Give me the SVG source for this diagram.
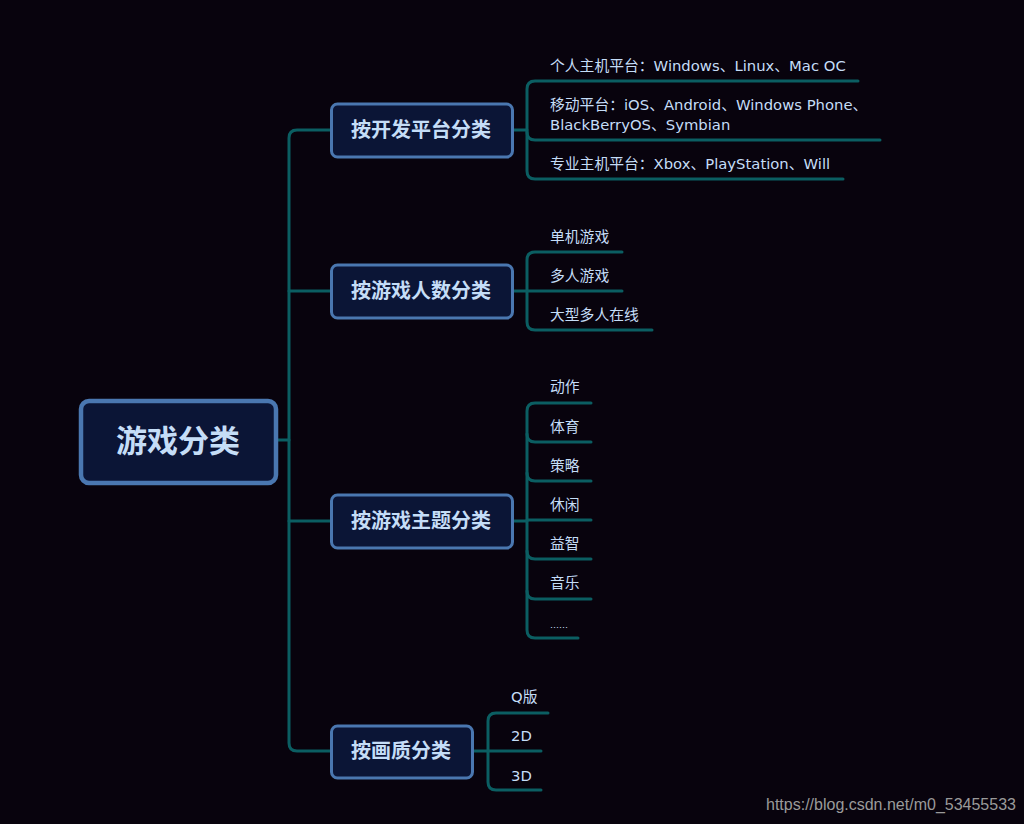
<svg xmlns="http://www.w3.org/2000/svg" width="1024" height="824" viewBox="0 0 1024 824">
<style>
.bg{fill:#08030d}
.node{fill:#0b1536;stroke:#4a77b0;stroke-width:3}
.root{fill:#0b1536;stroke:#4a77b0;stroke-width:4.5}
.c{fill:none;stroke:#0b5e62;stroke-width:3;stroke-linecap:round;stroke-linejoin:round}
.t{font-family:"DejaVu Sans","Noto Sans CJK SC",sans-serif;font-size:14.8px;fill:#c5ddf7}
.nt{font-family:"Noto Sans CJK SC",sans-serif;font-size:20px;font-weight:bold;fill:#c5ddf7;text-anchor:middle}
.rt{font-family:"Noto Sans CJK SC",sans-serif;font-size:31px;font-weight:bold;fill:#c5ddf7;text-anchor:middle}
.wm{font-family:"Liberation Sans",Arial,sans-serif;font-size:16px;fill:#9a9a9a}
</style>
<rect class="bg" x="0" y="0" width="1024" height="824"/>
<g id="connectors">
<path class="c" d="M276 440 H289"/>
<path class="c" d="M331 130 H297 Q289 130 289 138 V743 Q289 751 297 751 H331"/>
<path class="c" d="M289 291 H331 M289 521 H331"/>
<path class="c" d="M513 130 H527"/>
<path class="c" d="M858 81 H535 Q527 81 527 89 V171 Q527 179 535 179 H843"/>
<path class="c" d="M527 132 Q527 140 535 140 H880"/>
<path class="c" d="M513 291 H622"/>
<path class="c" d="M622 252 H535 Q527 252 527 260 V322 Q527 330 535 330 H652"/>
<path class="c" d="M513 521 H527"/>
<path class="c" d="M591 403 H535 Q527 403 527 411 V630 Q527 638 535 638 H578"/>
<path class="c" d="M527 434 Q527 442 535 442 H591 M527 473 Q527 481 535 481 H591 M527 520 H591 M527 551 Q527 559 535 559 H591 M527 591 Q527 599 535 599 H591"/>
<path class="c" d="M473 751 H541"/>
<path class="c" d="M548 713 H496 Q488 713 488 721 V782 Q488 790 496 790 H541"/>
</g>
<g id="root"><rect class="root" x="81" y="401" width="195" height="82" rx="8"/><text class="rt" x="178" y="452">游戏分类</text></g>
<g id="n-platform"><rect class="node" x="331.5" y="104" width="181" height="53" rx="6"/><text class="nt" x="421" y="137">按开发平台分类</text></g>
<g id="n-people"><rect class="node" x="331.5" y="265" width="181" height="53" rx="6"/><text class="nt" x="421" y="298">按游戏人数分类</text></g>
<g id="n-theme"><rect class="node" x="331.5" y="495" width="181" height="53" rx="6"/><text class="nt" x="421" y="528">按游戏主题分类</text></g>
<g id="n-quality"><rect class="node" x="331.5" y="726" width="141" height="52" rx="6"/><text class="nt" x="401" y="758">按画质分类</text></g>
<g id="l-platform">
<text class="t" x="550" y="71">个人主机平台：Windows、Linux、Mac OC</text>
<text class="t" x="550" y="110">移动平台：iOS、Android、Windows Phone、</text>
<text class="t" x="550" y="130">BlackBerryOS、Symbian</text>
<text class="t" x="550" y="169">专业主机平台：Xbox、PlayStation、Will</text>
</g>
<g id="l-people">
<text class="t" x="550" y="242">单机游戏</text>
<text class="t" x="550" y="281">多人游戏</text>
<text class="t" x="550" y="320">大型多人在线</text>
</g>
<g id="l-theme">
<text class="t" x="550" y="392">动作</text>
<text class="t" x="550" y="432">体育</text>
<text class="t" x="550" y="471">策略</text>
<text class="t" x="550" y="510">休闲</text>
<text class="t" x="550" y="549">益智</text>
<text class="t" x="550" y="588">音乐</text>
<text class="t" x="550" y="628" style="font-size:9px">……</text>
</g>
<g id="l-quality">
<text class="t" x="511" y="702">Q版</text>
<text class="t" x="511" y="741">2D</text>
<text class="t" x="511" y="781">3D</text>
</g>
<text class="wm" x="766" y="810">https://blog.csdn.net/m0_53455533</text>
</svg>
